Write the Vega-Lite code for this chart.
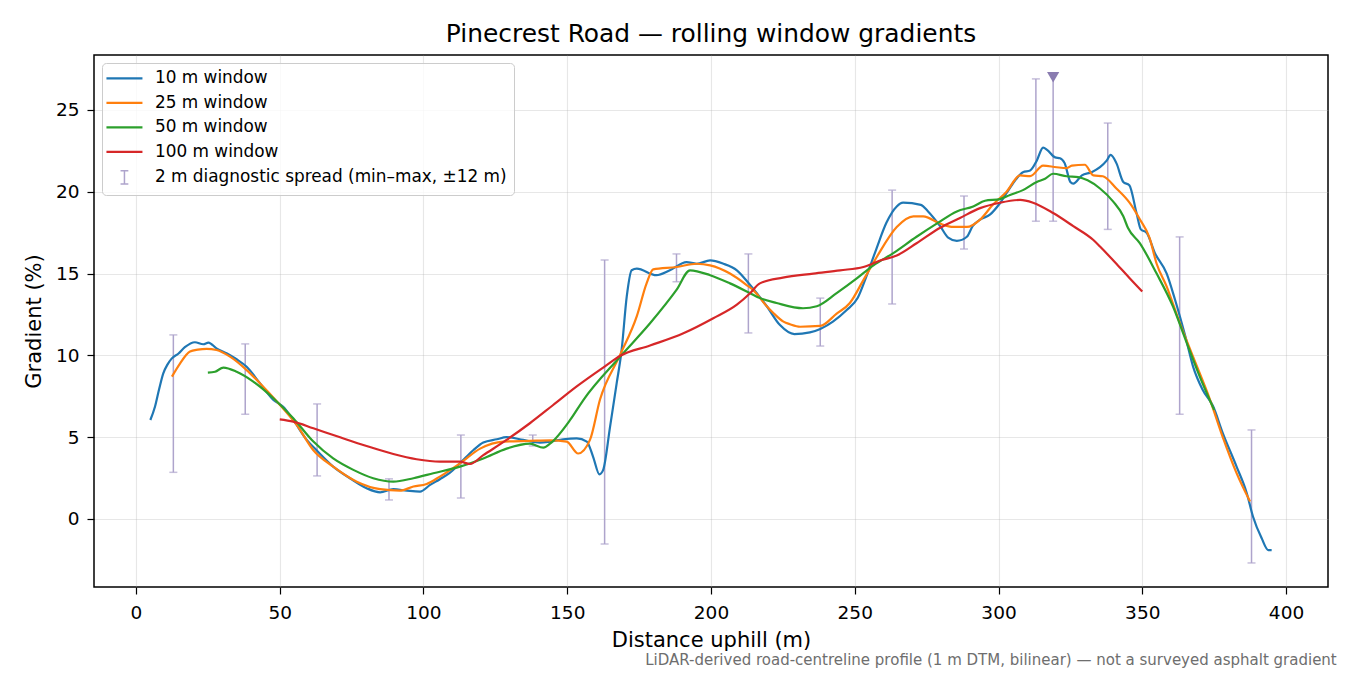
{
  "$schema": "https://vega.github.io/schema/vega-lite/v6.json",
  "autosize": {"type": "pad"},
  "padding": {"left": 22, "top": 21, "right": 5, "bottom": 5},
  "background": "white",
  "title": {"text": "LiDAR-derived road-centreline profile (1 m DTM, bilinear) — not a surveyed asphalt gradient", "orient": "bottom", "anchor": "end", "frame": "bounds", "dx": 8, "offset": 2, "fontSize": 15, "fontWeight": "normal", "font": "DejaVu Sans", "color": "#6e6e6e"},
  "config": {
    "font": "DejaVu Sans",
    "view": {"stroke": "#000", "strokeWidth": 1.5},
    "axis": {"labelFontSize": 18.5, "labelColor": "#000", "titleFontSize": 21, "titleFontWeight": "normal", "titleColor": "#000", "tickColor": "#000", "tickSize": 7, "tickWidth": 1.2, "domain": false, "gridColor": "#b0b0b0", "gridOpacity": 0.3, "gridWidth": 1.1, "labelPadding": 8, "titlePadding": 8, "labelFont": "DejaVu Sans", "titleFont": "DejaVu Sans"},
    "axisX": {"labelPadding": 9},
    "axisY": {"titlePadding": 11}
  },
  "datasets": {
    "lines": [
      {"series": "10 m window", "d": 5, "g": 6.05},
      {"series": "10 m window", "d": 6.6, "g": 6.86},
      {"series": "10 m window", "d": 8, "g": 7.9},
      {"series": "10 m window", "d": 9.5, "g": 8.9},
      {"series": "10 m window", "d": 11, "g": 9.45},
      {"series": "10 m window", "d": 12.4, "g": 9.8},
      {"series": "10 m window", "d": 14.7, "g": 10.1},
      {"series": "10 m window", "d": 17, "g": 10.5},
      {"series": "10 m window", "d": 20.5, "g": 10.8},
      {"series": "10 m window", "d": 23.4, "g": 10.68},
      {"series": "10 m window", "d": 25.2, "g": 10.78},
      {"series": "10 m window", "d": 28, "g": 10.43},
      {"series": "10 m window", "d": 31.5, "g": 10.13},
      {"series": "10 m window", "d": 35, "g": 9.76},
      {"series": "10 m window", "d": 38.5, "g": 9.3},
      {"series": "10 m window", "d": 43.1, "g": 8.3},
      {"series": "10 m window", "d": 47.8, "g": 7.27},
      {"series": "10 m window", "d": 51.2, "g": 6.86},
      {"series": "10 m window", "d": 54.7, "g": 6.05},
      {"series": "10 m window", "d": 59.4, "g": 4.83},
      {"series": "10 m window", "d": 62.8, "g": 4.2},
      {"series": "10 m window", "d": 68.6, "g": 3.2},
      {"series": "10 m window", "d": 74.4, "g": 2.49},
      {"series": "10 m window", "d": 80.2, "g": 1.88},
      {"series": "10 m window", "d": 84.9, "g": 1.63},
      {"series": "10 m window", "d": 89.5, "g": 1.82},
      {"series": "10 m window", "d": 94.2, "g": 1.73},
      {"series": "10 m window", "d": 98.8, "g": 1.67},
      {"series": "10 m window", "d": 102.3, "g": 2.08},
      {"series": "10 m window", "d": 105.7, "g": 2.43},
      {"series": "10 m window", "d": 109, "g": 2.8},
      {"series": "10 m window", "d": 112.7, "g": 3.4},
      {"series": "10 m window", "d": 117.3, "g": 4.2},
      {"series": "10 m window", "d": 120.8, "g": 4.67},
      {"series": "10 m window", "d": 125.5, "g": 4.87},
      {"series": "10 m window", "d": 128.9, "g": 5.0},
      {"series": "10 m window", "d": 134.7, "g": 4.83},
      {"series": "10 m window", "d": 140.5, "g": 4.67},
      {"series": "10 m window", "d": 144, "g": 4.73},
      {"series": "10 m window", "d": 148.6, "g": 4.87},
      {"series": "10 m window", "d": 153.3, "g": 4.93},
      {"series": "10 m window", "d": 156.8, "g": 4.73},
      {"series": "10 m window", "d": 159, "g": 3.8},
      {"series": "10 m window", "d": 161.2, "g": 2.73},
      {"series": "10 m window", "d": 162.5, "g": 3.0},
      {"series": "10 m window", "d": 164.9, "g": 5.64},
      {"series": "10 m window", "d": 167.2, "g": 8.3},
      {"series": "10 m window", "d": 168.9, "g": 10.3},
      {"series": "10 m window", "d": 170.7, "g": 13.6},
      {"series": "10 m window", "d": 172.4, "g": 15.2},
      {"series": "10 m window", "d": 174.2, "g": 15.3},
      {"series": "10 m window", "d": 181, "g": 14.9},
      {"series": "10 m window", "d": 185.7, "g": 15.2},
      {"series": "10 m window", "d": 191.5, "g": 15.7},
      {"series": "10 m window", "d": 195, "g": 15.6},
      {"series": "10 m window", "d": 199.7, "g": 15.8},
      {"series": "10 m window", "d": 204.3, "g": 15.6},
      {"series": "10 m window", "d": 209, "g": 15.2},
      {"series": "10 m window", "d": 213.6, "g": 14.3},
      {"series": "10 m window", "d": 219.4, "g": 13.0},
      {"series": "10 m window", "d": 224, "g": 11.85},
      {"series": "10 m window", "d": 229, "g": 11.3},
      {"series": "10 m window", "d": 234.4, "g": 11.4},
      {"series": "10 m window", "d": 242.4, "g": 12.06},
      {"series": "10 m window", "d": 247.2, "g": 12.77},
      {"series": "10 m window", "d": 251, "g": 13.5},
      {"series": "10 m window", "d": 254, "g": 14.8},
      {"series": "10 m window", "d": 257.5, "g": 16.5},
      {"series": "10 m window", "d": 261, "g": 18.1},
      {"series": "10 m window", "d": 264.6, "g": 19.1},
      {"series": "10 m window", "d": 266.8, "g": 19.33},
      {"series": "10 m window", "d": 273, "g": 19.2},
      {"series": "10 m window", "d": 275.5, "g": 18.8},
      {"series": "10 m window", "d": 279.7, "g": 17.9},
      {"series": "10 m window", "d": 282.5, "g": 17.2},
      {"series": "10 m window", "d": 285.5, "g": 17.0},
      {"series": "10 m window", "d": 289, "g": 17.25},
      {"series": "10 m window", "d": 291, "g": 17.9},
      {"series": "10 m window", "d": 293.6, "g": 18.3},
      {"series": "10 m window", "d": 297, "g": 18.6},
      {"series": "10 m window", "d": 300.5, "g": 19.3},
      {"series": "10 m window", "d": 304.6, "g": 20.4},
      {"series": "10 m window", "d": 308.5, "g": 21.2},
      {"series": "10 m window", "d": 311, "g": 21.3},
      {"series": "10 m window", "d": 313.3, "g": 21.9},
      {"series": "10 m window", "d": 315.5, "g": 22.7},
      {"series": "10 m window", "d": 317, "g": 22.55},
      {"series": "10 m window", "d": 319.7, "g": 22.1},
      {"series": "10 m window", "d": 321.4, "g": 22.05},
      {"series": "10 m window", "d": 323, "g": 21.75},
      {"series": "10 m window", "d": 325, "g": 20.6},
      {"series": "10 m window", "d": 326, "g": 20.5},
      {"series": "10 m window", "d": 329, "g": 21.0},
      {"series": "10 m window", "d": 332.4, "g": 21.2},
      {"series": "10 m window", "d": 335.3, "g": 21.5},
      {"series": "10 m window", "d": 337.6, "g": 21.9},
      {"series": "10 m window", "d": 339, "g": 22.25},
      {"series": "10 m window", "d": 341, "g": 21.75},
      {"series": "10 m window", "d": 343.4, "g": 20.6},
      {"series": "10 m window", "d": 345.5, "g": 20.4},
      {"series": "10 m window", "d": 348, "g": 18.7},
      {"series": "10 m window", "d": 349.5, "g": 17.7},
      {"series": "10 m window", "d": 351.5, "g": 17.5},
      {"series": "10 m window", "d": 354.4, "g": 16.25},
      {"series": "10 m window", "d": 358.5, "g": 15.0},
      {"series": "10 m window", "d": 361.4, "g": 13.4},
      {"series": "10 m window", "d": 365, "g": 11.15},
      {"series": "10 m window", "d": 367.7, "g": 9.3},
      {"series": "10 m window", "d": 371, "g": 7.9},
      {"series": "10 m window", "d": 374.6, "g": 6.9},
      {"series": "10 m window", "d": 378, "g": 5.25},
      {"series": "10 m window", "d": 382.8, "g": 3.2},
      {"series": "10 m window", "d": 386.3, "g": 1.6},
      {"series": "10 m window", "d": 388.5, "g": 0.15},
      {"series": "10 m window", "d": 391.5, "g": -1.17},
      {"series": "10 m window", "d": 393.8, "g": -1.9},
      {"series": "10 m window", "d": 395, "g": -1.9},
      {"series": "25 m window", "d": 12.5, "g": 8.7},
      {"series": "25 m window", "d": 15.3, "g": 9.5},
      {"series": "25 m window", "d": 18.8, "g": 10.23},
      {"series": "25 m window", "d": 21.5, "g": 10.35},
      {"series": "25 m window", "d": 24.6, "g": 10.4},
      {"series": "25 m window", "d": 28, "g": 10.33},
      {"series": "25 m window", "d": 32.7, "g": 9.92},
      {"series": "25 m window", "d": 38.5, "g": 9.1},
      {"series": "25 m window", "d": 43.1, "g": 8.3},
      {"series": "25 m window", "d": 50.1, "g": 6.97},
      {"series": "25 m window", "d": 55.9, "g": 5.75},
      {"series": "25 m window", "d": 61.7, "g": 4.2},
      {"series": "25 m window", "d": 68.6, "g": 3.2},
      {"series": "25 m window", "d": 76.8, "g": 2.28},
      {"series": "25 m window", "d": 84.9, "g": 1.82},
      {"series": "25 m window", "d": 91.8, "g": 1.73},
      {"series": "25 m window", "d": 96.5, "g": 1.98},
      {"series": "25 m window", "d": 101.1, "g": 2.14},
      {"series": "25 m window", "d": 105.7, "g": 2.59},
      {"series": "25 m window", "d": 112.7, "g": 3.4},
      {"series": "25 m window", "d": 119.7, "g": 4.3},
      {"series": "25 m window", "d": 127.8, "g": 4.73},
      {"series": "25 m window", "d": 137, "g": 4.77},
      {"series": "25 m window", "d": 144, "g": 4.8},
      {"series": "25 m window", "d": 149.8, "g": 4.73},
      {"series": "25 m window", "d": 153.8, "g": 4.0},
      {"series": "25 m window", "d": 157.9, "g": 4.83},
      {"series": "25 m window", "d": 161.4, "g": 7.3},
      {"series": "25 m window", "d": 168.3, "g": 10.0},
      {"series": "25 m window", "d": 174.2, "g": 12.4},
      {"series": "25 m window", "d": 177.6, "g": 14.4},
      {"series": "25 m window", "d": 179.9, "g": 15.26},
      {"series": "25 m window", "d": 188, "g": 15.4},
      {"series": "25 m window", "d": 195, "g": 15.6},
      {"series": "25 m window", "d": 199.7, "g": 15.5},
      {"series": "25 m window", "d": 206.6, "g": 15.0},
      {"series": "25 m window", "d": 212.4, "g": 14.3},
      {"series": "25 m window", "d": 214.6, "g": 14.0},
      {"series": "25 m window", "d": 219.4, "g": 13.0},
      {"series": "25 m window", "d": 221.6, "g": 12.6},
      {"series": "25 m window", "d": 225.2, "g": 12.06},
      {"series": "25 m window", "d": 227.5, "g": 11.9},
      {"series": "25 m window", "d": 231, "g": 11.75},
      {"series": "25 m window", "d": 238, "g": 11.8},
      {"series": "25 m window", "d": 243.7, "g": 12.55},
      {"series": "25 m window", "d": 248.3, "g": 13.2},
      {"series": "25 m window", "d": 253, "g": 14.6},
      {"series": "25 m window", "d": 257.6, "g": 16.0},
      {"series": "25 m window", "d": 264.6, "g": 17.85},
      {"series": "25 m window", "d": 270.4, "g": 18.5},
      {"series": "25 m window", "d": 273.8, "g": 18.5},
      {"series": "25 m window", "d": 279.7, "g": 18.05},
      {"series": "25 m window", "d": 284.3, "g": 17.85},
      {"series": "25 m window", "d": 289, "g": 17.85},
      {"series": "25 m window", "d": 293.6, "g": 18.3},
      {"series": "25 m window", "d": 298, "g": 19.2},
      {"series": "25 m window", "d": 302.8, "g": 20.0},
      {"series": "25 m window", "d": 307.5, "g": 21.0},
      {"series": "25 m window", "d": 311, "g": 20.95},
      {"series": "25 m window", "d": 315.5, "g": 21.6},
      {"series": "25 m window", "d": 320.2, "g": 21.5},
      {"series": "25 m window", "d": 323.7, "g": 21.45},
      {"series": "25 m window", "d": 325.5, "g": 21.6},
      {"series": "25 m window", "d": 330, "g": 21.65},
      {"series": "25 m window", "d": 333, "g": 21.0},
      {"series": "25 m window", "d": 336.3, "g": 20.95},
      {"series": "25 m window", "d": 341, "g": 20.2},
      {"series": "25 m window", "d": 345.7, "g": 19.3},
      {"series": "25 m window", "d": 349.2, "g": 18.3},
      {"series": "25 m window", "d": 352.5, "g": 17.2},
      {"series": "25 m window", "d": 355, "g": 15.6},
      {"series": "25 m window", "d": 358.5, "g": 14.2},
      {"series": "25 m window", "d": 363, "g": 12.0},
      {"series": "25 m window", "d": 367.7, "g": 9.9},
      {"series": "25 m window", "d": 373.6, "g": 7.27},
      {"series": "25 m window", "d": 378, "g": 5.0},
      {"series": "25 m window", "d": 382.8, "g": 2.8},
      {"series": "25 m window", "d": 387.5, "g": 1.06},
      {"series": "50 m window", "d": 25, "g": 8.94},
      {"series": "50 m window", "d": 27.5, "g": 9.0},
      {"series": "50 m window", "d": 30.4, "g": 9.25},
      {"series": "50 m window", "d": 35, "g": 9.0},
      {"series": "50 m window", "d": 40.8, "g": 8.4},
      {"series": "50 m window", "d": 47.8, "g": 7.38},
      {"series": "50 m window", "d": 54.7, "g": 6.16},
      {"series": "50 m window", "d": 61.7, "g": 4.73},
      {"series": "50 m window", "d": 68.6, "g": 3.7},
      {"series": "50 m window", "d": 75.6, "g": 3.0},
      {"series": "50 m window", "d": 82.5, "g": 2.49},
      {"series": "50 m window", "d": 89.5, "g": 2.28},
      {"series": "50 m window", "d": 96.5, "g": 2.49},
      {"series": "50 m window", "d": 103.4, "g": 2.79},
      {"series": "50 m window", "d": 112.7, "g": 3.2},
      {"series": "50 m window", "d": 120.8, "g": 3.7},
      {"series": "50 m window", "d": 128.9, "g": 4.3},
      {"series": "50 m window", "d": 137, "g": 4.6},
      {"series": "50 m window", "d": 141.7, "g": 4.36},
      {"series": "50 m window", "d": 144, "g": 4.6},
      {"series": "50 m window", "d": 151, "g": 6.05},
      {"series": "50 m window", "d": 155.6, "g": 7.27},
      {"series": "50 m window", "d": 168.3, "g": 9.9},
      {"series": "50 m window", "d": 178.8, "g": 11.96},
      {"series": "50 m window", "d": 188, "g": 14.0},
      {"series": "50 m window", "d": 192.7, "g": 15.2},
      {"series": "50 m window", "d": 199.7, "g": 14.9},
      {"series": "50 m window", "d": 206.6, "g": 14.4},
      {"series": "50 m window", "d": 213.6, "g": 13.8},
      {"series": "50 m window", "d": 217, "g": 13.5},
      {"series": "50 m window", "d": 222.8, "g": 13.2},
      {"series": "50 m window", "d": 232, "g": 12.88},
      {"series": "50 m window", "d": 236.8, "g": 13.0},
      {"series": "50 m window", "d": 243.7, "g": 13.8},
      {"series": "50 m window", "d": 250.7, "g": 14.7},
      {"series": "50 m window", "d": 256.5, "g": 15.5},
      {"series": "50 m window", "d": 263.4, "g": 16.25},
      {"series": "50 m window", "d": 271.5, "g": 17.25},
      {"series": "50 m window", "d": 278.5, "g": 18.05},
      {"series": "50 m window", "d": 285.5, "g": 18.8},
      {"series": "50 m window", "d": 291.2, "g": 19.1},
      {"series": "50 m window", "d": 295.3, "g": 19.45},
      {"series": "50 m window", "d": 300.5, "g": 19.55},
      {"series": "50 m window", "d": 304, "g": 19.8},
      {"series": "50 m window", "d": 308.5, "g": 20.1},
      {"series": "50 m window", "d": 313.3, "g": 20.6},
      {"series": "50 m window", "d": 316.2, "g": 20.8},
      {"series": "50 m window", "d": 319, "g": 21.1},
      {"series": "50 m window", "d": 323.7, "g": 20.95},
      {"series": "50 m window", "d": 327.7, "g": 20.9},
      {"series": "50 m window", "d": 331, "g": 20.7},
      {"series": "50 m window", "d": 335.3, "g": 20.2},
      {"series": "50 m window", "d": 339.9, "g": 19.4},
      {"series": "50 m window", "d": 343.4, "g": 18.5},
      {"series": "50 m window", "d": 345, "g": 17.8},
      {"series": "50 m window", "d": 349.2, "g": 16.85},
      {"series": "50 m window", "d": 355, "g": 15.0},
      {"series": "50 m window", "d": 360.7, "g": 12.98},
      {"series": "50 m window", "d": 365.5, "g": 10.75},
      {"series": "50 m window", "d": 370, "g": 8.7},
      {"series": "50 m window", "d": 375, "g": 6.66},
      {"series": "100 m window", "d": 50, "g": 6.09},
      {"series": "100 m window", "d": 54.7, "g": 5.95},
      {"series": "100 m window", "d": 61.7, "g": 5.54},
      {"series": "100 m window", "d": 71, "g": 4.99},
      {"series": "100 m window", "d": 80.2, "g": 4.46},
      {"series": "100 m window", "d": 89.5, "g": 3.97},
      {"series": "100 m window", "d": 97.6, "g": 3.65},
      {"series": "100 m window", "d": 105.7, "g": 3.5},
      {"series": "100 m window", "d": 112.7, "g": 3.5},
      {"series": "100 m window", "d": 116.2, "g": 3.36},
      {"series": "100 m window", "d": 120.8, "g": 3.9},
      {"series": "100 m window", "d": 128.9, "g": 4.83},
      {"series": "100 m window", "d": 137, "g": 5.85},
      {"series": "100 m window", "d": 145, "g": 6.95},
      {"series": "100 m window", "d": 153.3, "g": 8.1},
      {"series": "100 m window", "d": 163.7, "g": 9.4},
      {"series": "100 m window", "d": 168.3, "g": 9.96},
      {"series": "100 m window", "d": 178.8, "g": 10.6},
      {"series": "100 m window", "d": 190.4, "g": 11.35},
      {"series": "100 m window", "d": 200.8, "g": 12.27},
      {"series": "100 m window", "d": 209, "g": 13.1},
      {"series": "100 m window", "d": 213.6, "g": 13.8},
      {"series": "100 m window", "d": 217, "g": 14.4},
      {"series": "100 m window", "d": 225, "g": 14.75},
      {"series": "100 m window", "d": 235.6, "g": 15.0},
      {"series": "100 m window", "d": 244.9, "g": 15.2},
      {"series": "100 m window", "d": 253, "g": 15.4},
      {"series": "100 m window", "d": 258.8, "g": 15.8},
      {"series": "100 m window", "d": 264.6, "g": 16.1},
      {"series": "100 m window", "d": 271.5, "g": 16.85},
      {"series": "100 m window", "d": 279.7, "g": 17.8},
      {"series": "100 m window", "d": 286.6, "g": 18.4},
      {"series": "100 m window", "d": 293.6, "g": 19.0},
      {"series": "100 m window", "d": 300.5, "g": 19.33},
      {"series": "100 m window", "d": 307.5, "g": 19.5},
      {"series": "100 m window", "d": 312, "g": 19.33},
      {"series": "100 m window", "d": 319, "g": 18.7},
      {"series": "100 m window", "d": 326, "g": 17.9},
      {"series": "100 m window", "d": 333, "g": 17.05},
      {"series": "100 m window", "d": 335.3, "g": 16.65},
      {"series": "100 m window", "d": 341, "g": 15.6},
      {"series": "100 m window", "d": 345.7, "g": 14.7},
      {"series": "100 m window", "d": 350, "g": 13.9}
    ],
    "spread": [
      {"series": "2 m diagnostic spread (min–max, ±12 m)", "d": 13, "lo": 2.85, "hi": 11.25},
      {"series": "2 m diagnostic spread (min–max, ±12 m)", "d": 38, "lo": 6.4, "hi": 10.7},
      {"series": "2 m diagnostic spread (min–max, ±12 m)", "d": 63, "lo": 2.63, "hi": 7.03},
      {"series": "2 m diagnostic spread (min–max, ±12 m)", "d": 88, "lo": 1.16, "hi": 2.45},
      {"series": "2 m diagnostic spread (min–max, ±12 m)", "d": 113, "lo": 1.28, "hi": 5.13},
      {"series": "2 m diagnostic spread (min–max, ±12 m)", "d": 138, "lo": 4.46, "hi": 5.13},
      {"series": "2 m diagnostic spread (min–max, ±12 m)", "d": 163, "lo": -1.53, "hi": 15.83},
      {"series": "2 m diagnostic spread (min–max, ±12 m)", "d": 188, "lo": 14.5, "hi": 16.2},
      {"series": "2 m diagnostic spread (min–max, ±12 m)", "d": 213, "lo": 11.37, "hi": 16.2},
      {"series": "2 m diagnostic spread (min–max, ±12 m)", "d": 238, "lo": 10.57, "hi": 13.5},
      {"series": "2 m diagnostic spread (min–max, ±12 m)", "d": 263, "lo": 13.14, "hi": 20.1},
      {"series": "2 m diagnostic spread (min–max, ±12 m)", "d": 288, "lo": 16.5, "hi": 19.74},
      {"series": "2 m diagnostic spread (min–max, ±12 m)", "d": 313, "lo": 18.2, "hi": 26.9},
      {"series": "2 m diagnostic spread (min–max, ±12 m)", "d": 319, "lo": 18.2, "hi": 27.0},
      {"series": "2 m diagnostic spread (min–max, ±12 m)", "d": 338, "lo": 17.7, "hi": 24.2},
      {"series": "2 m diagnostic spread (min–max, ±12 m)", "d": 363, "lo": 6.4, "hi": 17.24},
      {"series": "2 m diagnostic spread (min–max, ±12 m)", "d": 388, "lo": -2.69, "hi": 5.44}
    ],
    "clipped": [
      {"d": 319, "g": 27.0}
    ]
  },
  "vconcat": [
    {
      "width": 1234,
      "height": 532,
      "title": {"text": "Pinecrest Road — rolling window gradients", "fontSize": 24.9, "fontWeight": "normal", "font": "DejaVu Sans", "color": "#000", "offset": 8, "anchor": "middle", "frame": "group"},
      "layer": [
        {
          "data": {"name": "spread"},
          "mark": {"type": "rule", "strokeWidth": 1.5},
          "encoding": {
            "x": {"field": "d", "type": "quantitative", "title": "Distance uphill (m)", "scale": {"domain": [-14.6, 414.6], "nice": false, "zero": false}},
            "y": {"field": "lo", "type": "quantitative", "title": "Gradient (%)", "scale": {"domain": [-4.16, 28.36], "nice": false, "zero": false}},
            "y2": {"field": "hi"},
            "color": {"field": "series", "type": "nominal"}
          }
        },
        {
          "data": {"name": "spread"},
          "mark": {"type": "tick", "orient": "horizontal", "size": 8, "thickness": 1.5},
          "encoding": {
            "x": {"field": "d", "type": "quantitative", "title": "Distance uphill (m)"},
            "y": {"field": "lo", "type": "quantitative", "title": "Gradient (%)"},
            "color": {"field": "series", "type": "nominal"}
          }
        },
        {
          "data": {"name": "spread"},
          "transform": [{"filter": "datum.d != 319"}],
          "mark": {"type": "tick", "orient": "horizontal", "size": 8, "thickness": 1.5},
          "encoding": {
            "x": {"field": "d", "type": "quantitative", "title": "Distance uphill (m)"},
            "y": {"field": "hi", "type": "quantitative", "title": "Gradient (%)"},
            "color": {"field": "series", "type": "nominal"}
          }
        },
        {
          "data": {"name": "lines"},
          "mark": {"type": "line", "strokeWidth": 2.2, "interpolate": "monotone"},
          "encoding": {
            "x": {"field": "d", "type": "quantitative", "title": "Distance uphill (m)",
                  "axis": {"values": [0, 50, 100, 150, 200, 250, 300, 350, 400], "format": "d"}},
            "y": {"field": "g", "type": "quantitative", "title": "Gradient (%)",
                  "axis": {"values": [0, 5, 10, 15, 20, 25], "format": "d"}},
            "color": {
              "field": "series", "type": "nominal",
              "scale": {
                "domain": ["10 m window", "25 m window", "50 m window", "100 m window", "2 m diagnostic spread (min–max, ±12 m)"],
                "range": ["#1f77b4", "#ff7f0e", "#2ca02c", "#d62728", "#aea4cc"]
              },
              "legend": {
                "title": null,
                "orient": "top-left",
                "offset": 8,
                "padding": 7,
                "rowPadding": 6.5,
                "labelFontSize": 16.9,
                "labelFont": "DejaVu Sans",
                "labelColor": "#000",
                "labelLimit": 500,
                "symbolSize": 144,
                "symbolOffset": 7,
                "labelOffset": 22,
                "symbolStrokeWidth": 2.2,
                "strokeColor": "#cccccc",
                "fillColor": "rgba(255,255,255,0.8)",
                "cornerRadius": 4,
                "encode": {
                  "symbols": {
                    "update": {
                      "shape": {"signal": "test(/diagnostic/, '' + datum.value) ? 'M-0.65,-1.1H0.65M0,-1.1V1.1M-0.65,1.1H0.65' : 'M-3,0H3'"},
                      "strokeWidth": {"signal": "test(/diagnostic/, '' + datum.value) ? 1.5 : 2.2"},
                      "stroke": {"scale": "color", "field": "value"},
                      "fill": {"value": "transparent"},
                      "opacity": {"value": 1}
                    }
                  }
                }
              }
            }
          }
        },
        {
          "data": {"name": "clipped"},
          "mark": {"type": "point", "shape": "triangle-down", "filled": true, "size": 150, "color": "#8a7cb0", "opacity": 1},
          "encoding": {
            "x": {"field": "d", "type": "quantitative", "title": "Distance uphill (m)"},
            "y": {"field": "g", "type": "quantitative", "title": "Gradient (%)"}
          }
        }
      ]
    }
  ]
}
